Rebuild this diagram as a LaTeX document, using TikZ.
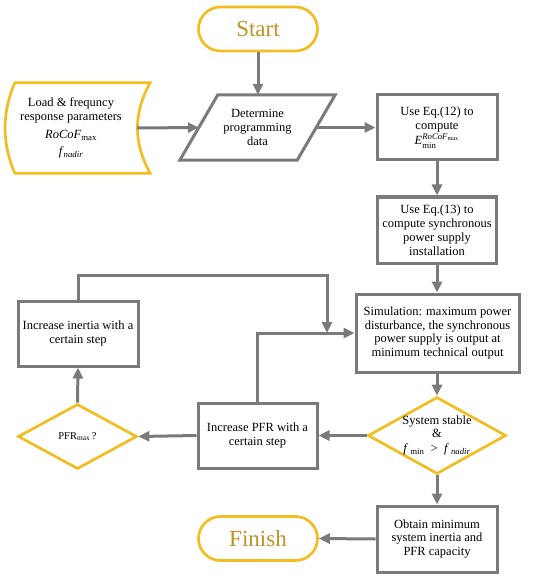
\documentclass[tikz,border=0pt]{standalone}
\usepackage{amsmath}
\usepackage{fontspec}
\setmainfont{Liberation Serif}
\usetikzlibrary{arrows.meta,shapes.geometric}
\definecolor{lgray}{RGB}{122,122,122}
\definecolor{lyel}{RGB}{242,189,32}
\definecolor{lgold}{RGB}{190,145,38}
\begin{document}
\begin{tikzpicture}[x=1pt,y=-1pt,
  txt/.style={inner sep=0pt, align=center, font=\fontsize{12.5}{13.9}\selectfont},
  box/.style={txt, draw=lgray, line width=3pt, rectangle},
  term/.style={draw=lyel, line width=2.7pt, rounded corners=22pt, minimum width=119pt, minimum height=44pt, text=lgold, inner sep=0pt, font=\fontsize{23}{26}\selectfont},
  ydiam/.style={draw=lyel, line width=2.7pt, diamond, inner sep=0pt},
  gline/.style={draw=lgray, line width=3pt},
  yline/.style={draw=lyel, line width=2.7pt},
  arr/.style={gline, -{Triangle[length=11pt,width=10pt]}}]
\useasboundingbox (0,0) rectangle (550,577);

% terminals
\node[term] (start) at (258,29) {Start};
\node[term] (finish) at (258,538.5) {Finish};

% load (stored data shape)
\node[txt, minimum width=132pt, minimum height=90pt] (load) at (71,128)
  {Load \& frequncy\\response parameters\\[4pt]\textit{RoCoF}\textsubscript{max}\\[3pt]\textit{f}\textsubscript{\textit{nadir}}};
\draw[yline] ([xshift=10pt]load.north west) -- ([xshift=13pt]load.north east)
  .. controls +(-17,30) and +(-17,-30) .. ([xshift=13pt]load.south east)
  -- ([xshift=10pt]load.south west)
  .. controls +(-13,-30) and +(-13,30) .. ([xshift=10pt]load.north west) -- cycle;

% determine (parallelogram)
\node[txt, minimum width=117pt, minimum height=65pt] (det) at (257.5,127.5)
  {Determine\\programming\\data};
\draw[gline] ([xshift=19pt]det.north west) -- ([xshift=19pt]det.north east)
  -- ([xshift=-19pt]det.south east) -- ([xshift=-19pt]det.south west) -- cycle;

% process boxes
\node[box, minimum width=120pt, minimum height=65pt] (eq12) at (437,127.5)
  {Use Eq.(12) to\\compute\\[2pt]$\textit{E}^{\textit{RoCoF}_{\textnormal{max}}}_{\textnormal{min}}$};
\node[box, minimum width=119pt, minimum height=66pt] (eq13) at (437,230)
  {Use Eq.(13) to\\compute synchronous\\power supply\\installation};
\node[box, minimum width=163pt, minimum height=78pt] (sim) at (437.5,333)
  {Simulation: maximum power\\disturbance, the synchronous\\power supply is output at\\minimum technical output};
\node[ydiam, minimum width=138pt, minimum height=77pt,
  label={[txt]center:System stable\\[-1pt]\&\\[1pt]\textit{f}\,\textsubscript{min}\ \ >\ \ \textit{f}\,\textsubscript{\textit{nadir}}}] (stable) at (437,435.5) {};
\node[box, minimum width=120pt, minimum height=66pt] (obtain) at (437,539)
  {Obtain minimum\\system inertia and\\PFR capacity};
\node[box, minimum width=119pt, minimum height=65pt] (pfr) at (257.5,435.5)
  {Increase PFR with a\\certain step};
\node[ydiam, minimum width=119pt, minimum height=65pt,
  label={[txt, font=\fontsize{10.5}{12}\selectfont]center:PFR\textsubscript{max}\,?}] (pfrmax) at (77.5,436.5) {};
\node[box, minimum width=120pt, minimum height=65pt] (inertia) at (78,333.5)
  {Increase inertia with a\\certain step};

% connectors
\draw[arr] (start.south) -- (start.south |- det.north);
\draw[arr] (load.east) -- (det.west);
\draw[arr] (det.east) -- (eq12.west);
\draw[arr] (eq12.south) -- (eq13.north);
\draw[arr] (eq13.south) -- (eq13.south |- sim.north);
\draw[arr] (sim.south) -- (sim.south -| stable.north) -- (stable.north);
\draw[arr] (stable.south) -- (obtain.north);
\draw[arr] (obtain.west) -- (finish.east);
\draw[arr] (stable.west) -- (pfr.east);
\draw[arr] (pfr.west) -- (pfrmax.east);
\draw[arr] (pfrmax.north) -- (inertia.south);
\draw[arr] (pfr.north) |- (sim.west);
\coordinate (turn) at (327,275);
\draw[arr] (inertia.north) |- (turn) -- (turn |- sim.west);
\end{tikzpicture}
\end{document}
